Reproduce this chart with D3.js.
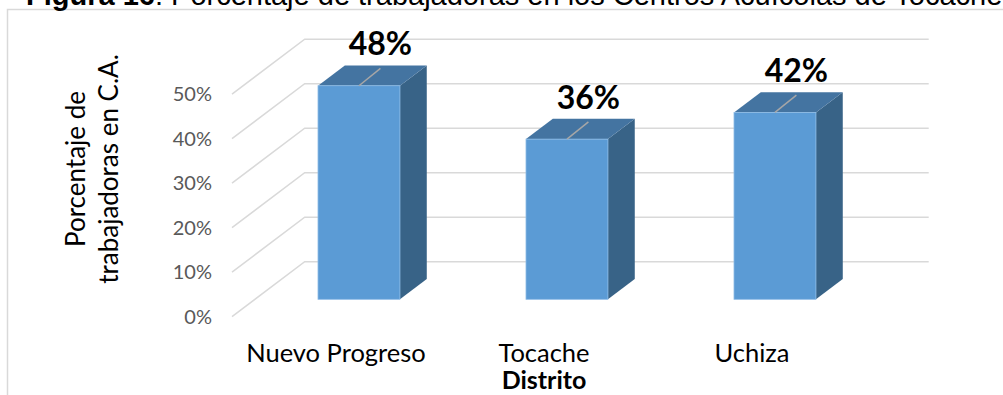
<!DOCTYPE html>
<html>
<head>
<meta charset="utf-8">
<script src="https://cdn.jsdelivr.net/npm/d3@7"></script>
<style>
  html, body { margin: 0; padding: 0; background: #fff; }
  svg { display: block; }
</style>
</head>
<body>
<svg id="chart" width="1003" height="395"></svg>
<script>
// Districts and share of women workers in the aquaculture centres
const categories = ["Nuevo Progreso", "Tocache", "Uchiza"];
const values = [0.48, 0.36, 0.42];
const valueLabels = ["48%", "36%", "42%"];
const tickValues = [0, 0.1, 0.2, 0.3, 0.4, 0.5];
const tickLabels = ["0%", "10%", "20%", "30%", "40%", "50%"];

const svg = d3.select("#chart");
const W = 1003, H = 395;
const uiFont = "Lato, 'Open Sans', sans-serif";

// Front plane of the 3-D box and the depth vector of the oblique projection
const frontLeft = 232, frontRight = 856;
const depth = { dx: 72.7, dy: -55 };
const barDepth = [0.316, 0.685];

const y = d3.scaleLinear().domain([0, 0.5]).range([316.7, 94.2]);
const x = d3.scaleBand().domain(categories).range([frontLeft, frontRight])
  .paddingInner(0.606).paddingOuter(0.303);

// Outer frame
svg.append("rect")
  .attr("x", 7.5).attr("y", 9.5).attr("width", W + 20).attr("height", H + 20)
  .attr("fill", "none").attr("stroke", "#d9d9d9").attr("stroke-width", 1.5);

// Title (clipped by the top of the page)
const title = svg.append("text")
  .attr("x", 26).attr("y", 5)
  .attr("font-family", "'Liberation Sans', Arial, sans-serif")
  .attr("font-size", 29).attr("fill", "#000");
title.append("tspan").attr("font-weight", "bold").text("Figura 16");
title.append("tspan").text(": Porcentaje de trabajadoras en los Centros Acuícolas de Tocache");

// Gridlines: left-wall diagonals and back-wall horizontals
const grid = svg.append("g").attr("stroke", "#d9d9d9").attr("stroke-width", 1.5).attr("fill", "none");
grid.selectAll("path.wall")
  .data(tickValues)
  .join("path")
  .attr("class", "wall")
  .attr("d", t => {
    const y0 = y(t);
    return `M${frontLeft},${y0}L${frontLeft + depth.dx},${y0 + depth.dy}L${frontRight + depth.dx},${y0 + depth.dy}`;
  });

// Y tick labels
svg.append("g")
  .selectAll("text")
  .data(tickValues)
  .join("text")
  .attr("x", 212).attr("y", t => y(t))
  .attr("dy", "0.36em")
  .attr("text-anchor", "end")
  .attr("font-family", uiFont)
  .attr("font-size", 20).attr("fill", "#595959")
  .text((t, i) => tickLabels[i]);

// Y axis title (two lines, rotated)
const yTitle = svg.append("text")
  .attr("transform", "translate(85,169) rotate(-90)")
  .attr("text-anchor", "middle")
  .attr("font-family", uiFont)
  .attr("font-size", 26).attr("fill", "#000");
yTitle.append("tspan").attr("x", 0).attr("y", 0).text("Porcentaje de");
yTitle.append("tspan").attr("x", 0).attr("y", 33).text("trabajadoras en C.A.");

// 3-D bars
const d0 = barDepth[0], dd = barDepth[1] - barDepth[0];
const bars = svg.append("g").selectAll("g.bar")
  .data(categories.map((c, i) => ({ c, v: values[i], label: valueLabels[i] })))
  .join("g").attr("class", "bar");

bars.each(function (d) {
  const g = d3.select(this);
  const xl = x(d.c) + d0 * depth.dx;
  const xr = xl + x.bandwidth();
  const yb = y(0) + d0 * depth.dy;
  const yt = y(d.v) + d0 * depth.dy;
  const ddx = dd * depth.dx, ddy = dd * depth.dy;
  // side face
  g.append("path")
    .attr("d", `M${xr},${yt}L${xr + ddx},${yt + ddy}L${xr + ddx},${yb + ddy}L${xr},${yb}Z`)
    .attr("fill", "#386387");
  // top face
  g.append("path")
    .attr("d", `M${xl},${yt}L${xl + ddx},${yt + ddy}L${xr + ddx},${yt + ddy}L${xr},${yt}Z`)
    .attr("fill", "#4474a1");
  // front face
  g.append("rect")
    .attr("x", xl).attr("y", yt).attr("width", x.bandwidth()).attr("height", yb - yt)
    .attr("fill", "#5b9bd5").attr("stroke", "#8fbce6").attr("stroke-width", 0.8);

  // value label with leader line
  const cx = xl + x.bandwidth() / 2;
  const lx = cx + 0.8 * ddx;
  const lyBase = yt + ddy - 10;
  g.append("line")
    .attr("x1", cx).attr("y1", yt)
    .attr("x2", lx).attr("y2", lyBase + 13)
    .attr("stroke", "#a6a6a6").attr("stroke-width", 1.5);
  g.append("text")
    .attr("x", lx).attr("y", lyBase)
    .attr("text-anchor", "middle")
    .attr("font-family", uiFont)
    .attr("font-weight", "bold").attr("font-size", 32).attr("fill", "#000")
    .text(d.label);
});

// Category labels along the front edge
svg.append("g")
  .selectAll("text")
  .data(categories)
  .join("text")
  .attr("x", c => x(c) + x.bandwidth() / 2)
  .attr("y", 362)
  .attr("text-anchor", "middle")
  .attr("font-family", uiFont)
  .attr("font-size", 25.5).attr("fill", "#000")
  .text(c => c);

// X axis title
svg.append("text")
  .attr("x", x("Tocache") + x.bandwidth() / 2).attr("y", 389)
  .attr("text-anchor", "middle")
  .attr("font-family", uiFont)
  .attr("font-weight", "bold").attr("font-size", 25).attr("fill", "#000")
  .text("Distrito");
</script>
</body>
</html>
